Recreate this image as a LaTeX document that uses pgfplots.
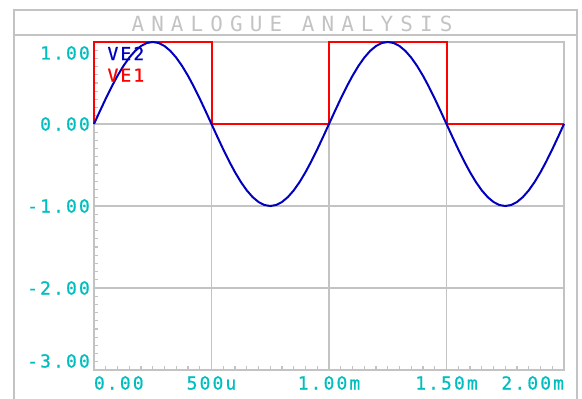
\documentclass[border=0pt]{standalone}
\usepackage{fontspec}
\usepackage{pgfplots}
\pgfplotsset{compat=1.18}
\newfontfamily\labfont[LetterSpace=12,FakeBold=0.8]{DejaVu Sans Mono}
\newfontfamily\titlefont[LetterSpace=34]{DejaVu Sans Mono}
\definecolor{labcyan}{RGB}{0,190,190}
\definecolor{framegray}{RGB}{195,195,195}
\definecolor{sineblue}{RGB}{0,0,190}
\definecolor{sqred}{RGB}{255,0,0}
\begin{document}
\begin{tikzpicture}[x=1bp,y=1bp]
\useasboundingbox (-94,-28) rectangle (488,370);
\draw[framegray, line width=2bp] (-80,-40) -- (-80,360) -- (483,360) -- (483,-40);
\draw[framegray, line width=2bp] (-80,335) -- (483,335);
\node[framegray, font=\titlefont\fontsize{21}{21}\selectfont] at (198,346) {ANALOGUE ANALYSIS};
\begin{axis}[
  at={(0,0)}, anchor=south west,
  scale only axis, width=470bp, height=328bp,
  xmin=0, xmax=2, ymin=-3, ymax=1,
  clip=false,
  axis line style={framegray, line width=2bp},
  tick pos=left, tick align=inside,
  xtick={0,0.5,1,1.5,2},
  xticklabels={\rlap{0.00},500u,1.00m,1.50m,\llap{2.00m}},
  ytick={-3,-2,-1,0,1},
  yticklabels={\raisebox{9bp}[13bp][0bp]{-3.00},-2.00,-1.00,0.00,\raisebox{-11bp}[13bp][0bp]{1.00}},
  minor x tick num=9, minor y tick num=9,
  major tick length=0pt, minor tick length=4bp,
  every tick/.style={framegray, line width=1.2bp},
  grid=major,
  major grid style={framegray, line width=1.5bp},
  ticklabel style={text=labcyan, font=\labfont\fontsize{18}{18}\selectfont},
  yticklabel style={inner sep=2bp, xshift=-2bp},
  xticklabel style={inner sep=2bp, yshift=-4bp},
  legend style={draw=none, fill=none, at={(rel axis cs:0.022,0.995)}, anchor=north west,
    font=\labfont\fontsize{18}{18}\selectfont, inner sep=1bp, row sep=3bp},
  legend cell align=left,
  legend image code/.code={},
  reverse legend,
]
\addplot[sqred, line width=2bp] coordinates {
(0,0) (0,1) (0.5,1) (0.5,0) (1,0) (1,1) (1.5,1) (1.5,0) (2,0)};
\addlegendentry{\textcolor{sqred}{VE1}}
\addplot[sineblue, line width=2bp] coordinates {
(0.000,0) (0.025,0.1564) (0.050,0.3090) (0.075,0.4540) (0.100,0.5878)
(0.125,0.7071) (0.150,0.8090) (0.175,0.8910) (0.200,0.9511) (0.225,0.9877)
(0.250,1) (0.275,0.9877) (0.300,0.9511) (0.325,0.8910) (0.350,0.8090)
(0.375,0.7071) (0.400,0.5878) (0.425,0.4540) (0.450,0.3090) (0.475,0.1564)
(0.500,0) (0.525,-0.1564) (0.550,-0.3090) (0.575,-0.4540) (0.600,-0.5878)
(0.625,-0.7071) (0.650,-0.8090) (0.675,-0.8910) (0.700,-0.9511) (0.725,-0.9877)
(0.750,-1) (0.775,-0.9877) (0.800,-0.9511) (0.825,-0.8910) (0.850,-0.8090)
(0.875,-0.7071) (0.900,-0.5878) (0.925,-0.4540) (0.950,-0.3090) (0.975,-0.1564)
(1.000,0) (1.025,0.1564) (1.050,0.3090) (1.075,0.4540) (1.100,0.5878)
(1.125,0.7071) (1.150,0.8090) (1.175,0.8910) (1.200,0.9511) (1.225,0.9877)
(1.250,1) (1.275,0.9877) (1.300,0.9511) (1.325,0.8910) (1.350,0.8090)
(1.375,0.7071) (1.400,0.5878) (1.425,0.4540) (1.450,0.3090) (1.475,0.1564)
(1.500,0) (1.525,-0.1564) (1.550,-0.3090) (1.575,-0.4540) (1.600,-0.5878)
(1.625,-0.7071) (1.650,-0.8090) (1.675,-0.8910) (1.700,-0.9511) (1.725,-0.9877)
(1.750,-1) (1.775,-0.9877) (1.800,-0.9511) (1.825,-0.8910) (1.850,-0.8090)
(1.875,-0.7071) (1.900,-0.5878) (1.925,-0.4540) (1.950,-0.3090) (1.975,-0.1564)
(2.000,0)};
\addlegendentry{\textcolor{sineblue}{VE2}}
\end{axis}
\end{tikzpicture}
\end{document}
